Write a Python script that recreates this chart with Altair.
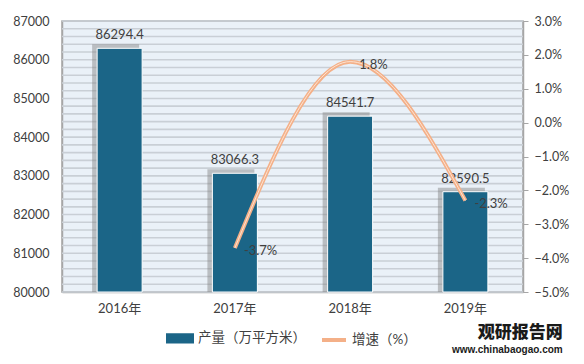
import altair as alt
import pandas as pd

years = ["2016年", "2017年", "2018年", "2019年"]
output = [86294.4, 83066.3, 84541.7, 82590.5]
growth_years = ["2017年", "2018年", "2019年"]
growth = [-3.7, 1.8, -2.3]
left_ticks = [80000, 81000, 82000, 83000, 84000, 85000, 86000, 87000]
right_ticks = [-5, -4, -3, -2, -1, 0, 1, 2, 3]
grid_vals = list(range(80000, 87001, 200))

bar_name = "产量（万平方米）"
line_name = "增速（%）"
BAR_COLOR = "#1b6587"
LINE_COLOR = "#f4b088"

FONT = "Lato, Noto Sans CJK SC, sans-serif"
TXT = "#404040"

bars_df = pd.DataFrame({"year": years, "output": output, "s": bar_name,
                        "label": [f"{v:.1f}" for v in output]})
line_df = pd.DataFrame({"year": growth_years, "growth": growth, "s": line_name,
                        "label": [f"{v:.1f}%" for v in growth]})
grid_df = pd.DataFrame({"g": grid_vals})

xenc = alt.X("year:N", sort=years, scale=alt.Scale(paddingInner=0.61, paddingOuter=0.305),
             axis=alt.Axis(title=None, labelAngle=0, labelFont=FONT, labelFontSize=13,
                           labelColor=TXT, ticks=False, labelPadding=10,
                           domainColor="#a6a6a6", domainWidth=1.5))
yscale = alt.Scale(domain=[80000, 87000], zero=False, nice=False)
left_axis = alt.Axis(title=None, values=left_ticks, grid=False, ticks=False, format="d",
                     labelPadding=13, labelFont=FONT, labelFontSize=12.5,
                     labelColor=TXT, domainColor="#a6a6a6", domainWidth=1.5,
                     labelOverlap=False)

is_line = f"datum.label === '{line_name}'"
color_enc = alt.Color(
    "s:N",
    scale=alt.Scale(domain=[bar_name, line_name], range=[BAR_COLOR, LINE_COLOR]),
    legend=alt.Legend(
        title=" ", titleOrient="left", titlePadding=104, titleFontSize=2,
        orient="bottom", offset=9, symbolSize=576,
        labelFont=FONT, labelFontSize=13.5, labelColor=TXT, columnPadding=8,
        labelOffset=4, symbolOpacity=1,
        symbolType={"expr": f"{is_line} ? 'stroke' : 'M-1,-0.27H1V0.27H-1Z'"},
        symbolFillColor={"expr": f"{is_line} ? 'transparent' : '{BAR_COLOR}'"},
        symbolStrokeColor={"expr": f"{is_line} ? '{LINE_COLOR}' : 'transparent'"},
        symbolStrokeWidth=4))

grid = alt.Chart(grid_df).mark_rule(color="#c9cfd6", strokeWidth=1.6).encode(
    y=alt.Y("g:Q", scale=yscale, axis=left_axis))

shadow = alt.Chart(bars_df).mark_bar(color="#808080", opacity=0.45, xOffset=-4, yOffset=-4,
                                     size=47).encode(
    x=xenc, y=alt.Y("output:Q", scale=yscale, axis=left_axis), y2=alt.datum(80000))

bars = alt.Chart(bars_df).mark_bar(size=45, stroke="#ffffff", strokeWidth=1).encode(
    x=xenc,
    y=alt.Y("output:Q", scale=yscale, axis=left_axis),
    y2=alt.datum(80000),
    color=color_enc)

bar_text = alt.Chart(bars_df).mark_text(dy=-13, font=FONT, fontSize=13, color=TXT).encode(
    x=xenc, y=alt.Y("output:Q", scale=yscale, axis=left_axis), text="label:N")

left = alt.layer(grid, shadow, bars, bar_text)

rscale = alt.Scale(domain=[-5, 3], nice=False, zero=False)
right_axis = alt.Axis(title=None, orient="right", values=right_ticks, grid=False,
                      labelExpr="format(datum.value, '.1f') + '%'", labelOverlap=False,
                      tickSize=5, tickColor="#a6a6a6", labelPadding=6,
                      labelFont=FONT, labelFontSize=12.5, labelColor=TXT,
                      domainColor="#a6a6a6", domainWidth=1.5)
line_outer = alt.Chart(line_df).mark_line(interpolate="monotone", strokeWidth=4).encode(
    x=xenc, y=alt.Y("growth:Q", scale=rscale, axis=right_axis), color=color_enc)
line_inner = alt.Chart(line_df).mark_line(interpolate="monotone", strokeWidth=1,
                                          color="#fde3d2").encode(
    x=xenc, y=alt.Y("growth:Q", scale=rscale, axis=right_axis))
line_text = alt.Chart(line_df).mark_text(align="left", dx=9, dy=3, font=FONT, fontSize=13,
                                         color=TXT).encode(
    x=xenc, y=alt.Y("growth:Q", scale=rscale, axis=right_axis), text="label:N")

right = alt.layer(line_outer, line_inner, line_text)

chart = alt.layer(left, right).resolve_scale(y="independent").properties(
    width=461, height=271,
    padding={"left": 4, "top": 7, "right": 5, "bottom": 2},
    background="#ffffff",
    title=alt.TitleParams("观研报告网", subtitle="www.chinabaogao.com", orient="bottom",
                          anchor="end", offset=-25, dx=-6, font="Noto Sans CJK SC",
                          fontSize=17, fontWeight=900, color="#1a1a1a",
                          subtitleFont="Liberation Sans", subtitleFontSize=10,
                          subtitleFontWeight="bold", subtitleColor="#1a1a1a",
                          subtitlePadding=3),
).configure_view(fill="#eaf1f8", stroke="#a6a6a6", strokeWidth=1.5)

chart.save("out.html", embed_options={"renderer": "svg", "actions": False})
